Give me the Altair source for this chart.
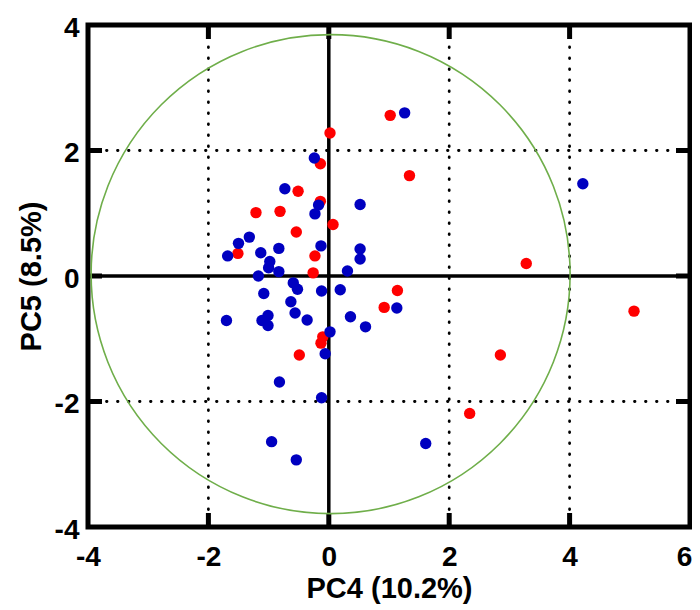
import altair as alt
import pandas as pd

# ---- data ----
red_x = [1.02, 0.02, -0.14, -0.51, -0.14, -1.21, -0.81, 0.07, -0.54, -1.51, -0.23,
         -0.26, 1.34, 3.28, 1.14, 0.92, 5.07, -0.10, -0.13, -0.49, 2.85, 2.34]
red_y = [2.56, 2.28, 1.79, 1.35, 1.19, 1.01, 1.03, 0.82, 0.70, 0.36, 0.32,
         0.05, 1.60, 0.20, -0.23, -0.50, -0.56, -0.97, -1.07, -1.26, -1.26, -2.19]

blue_x = [-0.24, -0.73, -0.17, -0.23, 0.52, -1.32, -1.50, -0.13, -0.83, -1.13, 0.52,
          0.52, -1.68, -0.98, -1.00, -0.83, 0.31, -1.17, -0.59, -0.52, -0.12, 0.19,
          -1.08, -0.63, -0.56, -0.36, 0.36, 0.61, -1.70, -1.11, -1.01, -1.01, 0.02,
          -0.06, -0.82, -0.12, -0.95, -0.54, 1.26, 4.22, 1.13, 1.61]
blue_y = [1.88, 1.39, 1.13, 0.99, 1.14, 0.62, 0.52, 0.48, 0.44, 0.37, 0.43,
          0.27, 0.32, 0.23, 0.13, 0.07, 0.08, 0.00, -0.11, -0.21, -0.24, -0.22,
          -0.28, -0.41, -0.59, -0.70, -0.65, -0.81, -0.71, -0.71, -0.63, -0.79, -0.89,
          -1.24, -1.69, -1.94, -2.64, -2.93, 2.60, 1.47, -0.51, -2.67]

x_ticks = [-4, -2, 0, 2, 4, 6]
y_ticks = [-4, -2, 0, 2, 4]
x_dotted = [-2, 2, 4]
y_dotted = [2, -2]
x_inner_ticks = [-2, 0, 2, 4]
y_inner_ticks = [-2, 0, 2]
ellipse_center_x = [0.03]
ellipse_center_y = [0.03]

W, H = 602, 502
FONT = "Liberation Sans"

xs = alt.Scale(domain=[-4, 6], nice=False, zero=False)
ys = alt.Scale(domain=[-4, 4], nice=False, zero=False)

common = dict(domain=False, ticks=False, tickSize=0, grid=False, labelFont=FONT,
              labelFontSize=28, labelFontWeight="bold", labelColor="black",
              labelFlush=False, labelOverlap=False, labelExpr="'' + datum.value",
              titleFont=FONT, titleFontSize=29, titleFontWeight="bold", titleColor="black",
              titleBaseline="alphabetic", titleAlign="center")

xaxis = alt.Axis(values=x_ticks, title="PC4 (10.2%)", labelPadding=16,
                 labelOffset={"condition": {"test": "datum.value == 6", "value": -6}, "value": 0},
                 titleX=W / 2, titleY=70, **common)
yaxis = alt.Axis(values=y_ticks, title="PC5 (8.5%)", labelPadding=9, labelOffset=3,
                 titleAngle=270, titleX=-48, titleY=H / 2, **common)


def X():
    return alt.X("x:Q", scale=xs, axis=xaxis)


def Y():
    return alt.Y("y:Q", scale=ys, axis=yaxis)


dot_style = dict(color="black", strokeWidth=2.8, strokeDash=[0.5, 10.5], strokeCap="round")

vdots = alt.Chart(pd.DataFrame({"x": x_dotted})).mark_rule(**dot_style).encode(x=X())
hdots = alt.Chart(pd.DataFrame({"y": y_dotted})).mark_rule(**dot_style).encode(y=Y())

zero_x = alt.Chart(pd.DataFrame({"x": [0]})).mark_rule(color="black", strokeWidth=3.5).encode(x=X())
zero_y = alt.Chart(pd.DataFrame({"y": [0]})).mark_rule(color="black", strokeWidth=3.5).encode(y=Y())

tick_style = dict(color="black", strokeWidth=5)
TL = 14
t_bottom = alt.Chart(pd.DataFrame({"x": x_inner_ticks})).mark_rule(**tick_style).encode(
    x=X(), y=alt.value(H), y2=alt.value(H - TL))
t_top = alt.Chart(pd.DataFrame({"x": x_inner_ticks})).mark_rule(**tick_style).encode(
    x=X(), y=alt.value(0), y2=alt.value(TL))
t_left = alt.Chart(pd.DataFrame({"y": y_inner_ticks})).mark_rule(**tick_style).encode(
    y=Y(), x=alt.value(0), x2=alt.value(TL))
t_right = alt.Chart(pd.DataFrame({"y": y_inner_ticks})).mark_rule(**tick_style).encode(
    y=Y(), x=alt.value(W), x2=alt.value(W - TL))

ellipse = alt.Chart(pd.DataFrame({"x": ellipse_center_x, "y": ellipse_center_y})).mark_point(
    shape="circle", size=479 ** 2, filled=False, stroke="#6FAE4A", strokeWidth=1.6, opacity=1
).encode(x=X(), y=Y())

red = alt.Chart(pd.DataFrame({"x": red_x, "y": red_y})).mark_circle(
    size=130, color="#FF0000", opacity=1).encode(x=X(), y=Y())
blue = alt.Chart(pd.DataFrame({"x": blue_x, "y": blue_y})).mark_circle(
    size=130, color="#0000C0", opacity=1).encode(x=X(), y=Y())

chart = alt.layer(
    vdots, hdots, zero_x, zero_y, t_bottom, t_top, t_left, t_right, ellipse, red, blue
).properties(
    width=W, height=H,
    padding={"left": 80, "top": 17, "right": 2, "bottom": 77},
    autosize=alt.AutoSizeParams(type="none"),
    background="white",
).configure_view(
    stroke="black", strokeWidth=5
)

chart.save("out.html", embed_options={"renderer": "svg", "actions": False})
